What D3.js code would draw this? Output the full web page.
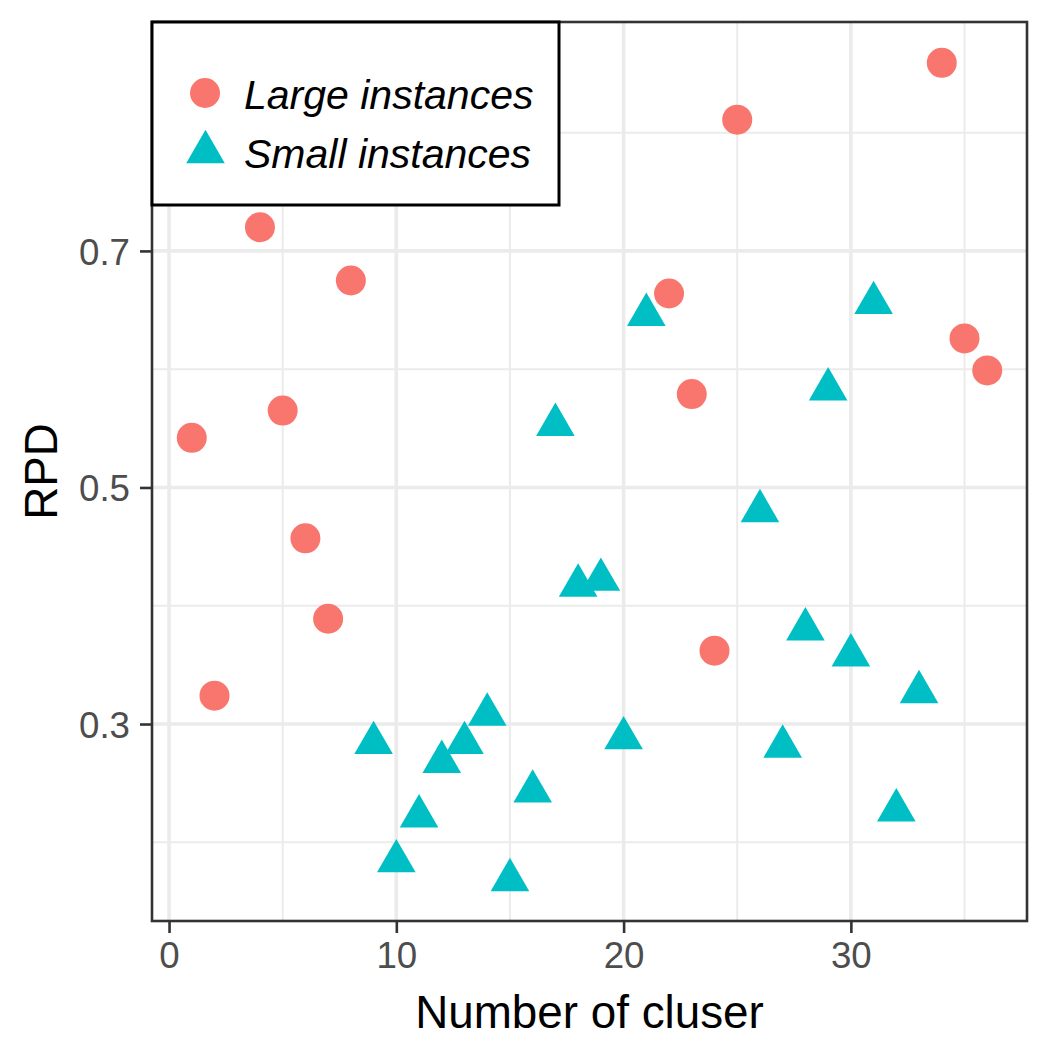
<!DOCTYPE html>
<html>
<head>
<meta charset="utf-8">
<script src="https://cdn.jsdelivr.net/npm/d3@7"></script>
<style>
  html, body { margin: 0; padding: 0; background: #fff; }
  svg { display: block; font-family: "Liberation Sans", Arial, sans-serif; }
</style>
</head>
<body>
<svg id="chart" width="1050" height="1050"></svg>
<script>
// Large instances (circles)
const largeX = [1, 2, 4, 5, 6, 7, 8, 22, 23, 24, 25, 34, 35, 36];
const largeY = [0.542, 0.324, 0.720, 0.565, 0.457, 0.389, 0.675, 0.664, 0.579, 0.362, 0.811, 0.859, 0.626, 0.599];

// Small instances (triangles)
const smallX = [9, 10, 11, 12, 13, 14, 15, 16, 17, 18, 19, 20, 21, 26, 27, 28, 29, 30, 31, 32, 33];
const smallY = [0.284, 0.184, 0.222, 0.268, 0.284, 0.308, 0.168, 0.243, 0.553, 0.417, 0.422, 0.288, 0.646,
                0.480, 0.281, 0.380, 0.583, 0.358, 0.656, 0.227, 0.327];

const xTicks = [0, 10, 20, 30];
const xMinor = [5, 15, 25, 35];
const yTicks = [0.3, 0.5, 0.7];
const yMinor = [0.2, 0.4, 0.6, 0.8];

const seriesNames = ["Large instances", "Small instances"];
const seriesColors = ["#F8766D", "#00BFC4"];

(function () {
  const svg = d3.select("#chart");

  // panel box
  const L = 152, R = 1027, T = 22, B = 921;

  const large = largeX.map((x, i) => ({ x, y: largeY[i] }));
  const small = smallX.map((x, i) => ({ x, y: smallY[i] }));
  const all = large.concat(small);

  // ggplot-style 5% expansion
  const expand = (ext) => {
    const pad = (ext[1] - ext[0]) * 0.05;
    return [ext[0] - pad, ext[1] + pad];
  };

  const x = d3.scaleLinear().domain(expand(d3.extent(all, d => d.x))).range([L, R]);
  const y = d3.scaleLinear().domain(expand(d3.extent(all, d => d.y))).range([B, T]);

  const grid = svg.append("g");

  // minor grid
  grid.selectAll("line.xm").data(xMinor.filter(v => x(v) > L && x(v) < R)).enter().append("line")
    .attr("x1", d => x(d)).attr("x2", d => x(d)).attr("y1", T).attr("y2", B)
    .attr("stroke", "#EBEBEB").attr("stroke-width", 2);
  grid.selectAll("line.ym").data(yMinor.filter(v => y(v) > T && y(v) < B)).enter().append("line")
    .attr("y1", d => y(d)).attr("y2", d => y(d)).attr("x1", L).attr("x2", R)
    .attr("stroke", "#EBEBEB").attr("stroke-width", 2);

  // major grid
  grid.selectAll("line.x").data(xTicks).enter().append("line")
    .attr("x1", d => x(d)).attr("x2", d => x(d)).attr("y1", T).attr("y2", B)
    .attr("stroke", "#EBEBEB").attr("stroke-width", 3.6);
  grid.selectAll("line.y").data(yTicks).enter().append("line")
    .attr("y1", d => y(d)).attr("y2", d => y(d)).attr("x1", L).attr("x2", R)
    .attr("stroke", "#EBEBEB").attr("stroke-width", 3.6);

  // points
  svg.append("g").selectAll("circle").data(large).enter().append("circle")
    .attr("cx", d => x(d.x)).attr("cy", d => y(d.y)).attr("r", 15)
    .attr("fill", seriesColors[0]);

  // triangle centred on its circumcentre (like R pch 17)
  const triR = 22.3;
  const tri = `M0,${-triR}L${triR * Math.sqrt(3) / 2},${triR / 2}L${-triR * Math.sqrt(3) / 2},${triR / 2}Z`;

  svg.append("g").selectAll("path").data(small).enter().append("path")
    .attr("d", tri)
    .attr("transform", d => `translate(${x(d.x)},${y(d.y)})`)
    .attr("fill", seriesColors[1]);

  // panel border
  svg.append("rect")
    .attr("x", L).attr("y", T).attr("width", R - L).attr("height", B - T)
    .attr("fill", "none").attr("stroke", "#333333").attr("stroke-width", 2.6);

  // axes
  const xAxis = svg.append("g")
    .attr("transform", `translate(0,${B})`)
    .call(d3.axisBottom(x).tickValues(xTicks).tickFormat(d3.format("d")).tickSize(12).tickPadding(9));
  const yAxis = svg.append("g")
    .attr("transform", `translate(${L},0)`)
    .call(d3.axisLeft(y).tickValues(yTicks).tickFormat(d3.format(".1f")).tickSize(12).tickPadding(10));

  [xAxis, yAxis].forEach(a => {
    a.select(".domain").remove();
    a.selectAll(".tick line").attr("stroke", "#333333").attr("stroke-width", 2.6);
    a.selectAll(".tick text")
      .attr("fill", "#4D4D4D")
      .style("font-size", "36.7px")
      .style("font-family", "'Liberation Sans', Arial, sans-serif");
  });
  yAxis.selectAll(".tick text").attr("dy", "0.36em");
  xAxis.selectAll(".tick text").attr("dy", "0.72em");

  // axis titles
  svg.append("text")
    .attr("x", (L + R) / 2).attr("y", 1028)
    .attr("text-anchor", "middle")
    .attr("fill", "#000")
    .style("font-size", "45.8px")
    .text("Number of cluser");

  svg.append("text")
    .attr("transform", `translate(57,${(T + B) / 2}) rotate(-90)`)
    .attr("text-anchor", "middle")
    .attr("fill", "#000")
    .style("font-size", "45.8px")
    .text("RPD");

  // legend
  const lg = svg.append("g");
  lg.append("rect")
    .attr("x", 152).attr("y", 22).attr("width", 407).attr("height", 183)
    .attr("fill", "#fff").attr("stroke", "#000").attr("stroke-width", 3);

  const rows = [93, 152];
  lg.append("circle").attr("cx", 205).attr("cy", rows[0]).attr("r", 15).attr("fill", seriesColors[0]);
  lg.append("path").attr("d", tri).attr("transform", `translate(205.5,${rows[1]})`).attr("fill", seriesColors[1]);

  seriesNames.forEach((name, i) => {
    lg.append("text")
      .attr("x", 244).attr("y", rows[i] + 15.5)
      .attr("fill", "#000")
      .style("font-size", "41px")
      .style("font-style", "italic")
      .text(name);
  });
})();
</script>
</body>
</html>
